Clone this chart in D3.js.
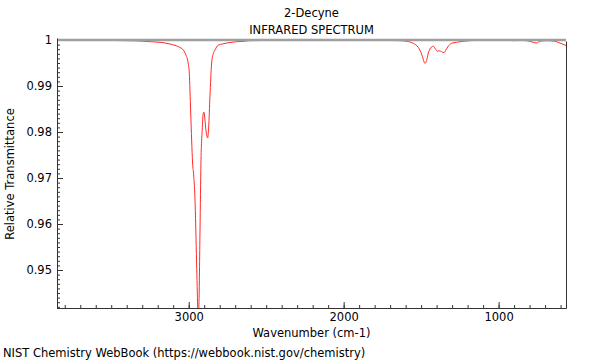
<!DOCTYPE html>
<html>
<head>
<meta charset="utf-8">
<script src="https://cdn.jsdelivr.net/npm/d3@7"></script>
<style>
  body { margin: 0; background: #fff; }
  text { font-family: "DejaVu Sans", sans-serif; fill: #000; }
</style>
</head>
<body>
<svg id="chart" width="600" height="360"></svg>
<script>
const chartTitle = "2-Decyne";
const chartSubtitle = "INFRARED SPECTRUM";
const xLabel = "Wavenumber (cm-1)";
const yLabel = "Relative Transmittance";
const footer = "NIST Chemistry WebBook (https://webbook.nist.gov/chemistry)";

const wavenumbers = [3850, 3800, 3700, 3600, 3500, 3400, 3300, 3250, 3185, 3121, 3067, 3035, 3018, 3003, 2996, 2992, 2987, 2981, 2975, 2968, 2960, 2949, 2942, 2939, 2934, 2927, 2921, 2913, 2906, 2902, 2896, 2891, 2884, 2878, 2871, 2863, 2852, 2842, 2831, 2809, 2780, 2755, 2720, 2691, 2650, 2605, 2500, 2400, 2300, 2200, 2100, 2000, 1900, 1800, 1700, 1637, 1594, 1551, 1519, 1497, 1487, 1476, 1465, 1455, 1439, 1422, 1407, 1394, 1384, 1368, 1353, 1340, 1325, 1304, 1271, 1229, 1185, 1121, 1050, 1000, 950, 900, 860, 820, 777, 755, 734, 691, 637, 605, 572, 565];
const transmittance = [0.99993, 0.99995, 0.9999, 0.99993, 0.9999, 0.99985, 0.99975, 0.99963, 0.9995, 0.99913, 0.99854, 0.99783, 0.99674, 0.99493, 0.99276, 0.98913, 0.98413, 0.97826, 0.97326, 0.97065, 0.96587, 0.95152, 0.94196, 0.9395, 0.9425, 0.9587, 0.9733, 0.9804, 0.9841, 0.98435, 0.983, 0.9811, 0.9793, 0.9787, 0.9811, 0.9876, 0.995, 0.997, 0.9978, 0.9989, 0.99915, 0.99935, 0.9995, 0.99963, 0.9997, 0.99985, 0.9999, 0.99993, 0.9999, 1.0, 0.9999, 0.99993, 0.9999, 0.99993, 0.9999, 0.99985, 0.99972, 0.99928, 0.99841, 0.99696, 0.99587, 0.99493, 0.9955, 0.99696, 0.99826, 0.99863, 0.99804, 0.99754, 0.99767, 0.99746, 0.99724, 0.99783, 0.99863, 0.99928, 0.9995, 0.99972, 0.99985, 0.99993, 0.9999, 1.0, 0.99993, 0.99985, 0.9999, 0.99985, 0.9995, 0.99935, 0.99972, 0.99985, 0.99972, 0.99935, 0.99891, 0.9988];

const xMajorTicks = [3000, 2000, 1000];
const xMinorTicks = d3.range(3800, 550, -100);
const yMajorTicks = [1, 0.99, 0.98, 0.97, 0.96, 0.95];
const yMinorTicks = d3.range(942, 1001, 1).map(d => d / 1000);
const xDomain = [3850, 565];
const yDomain = [0.94174, 1.0];

const FS = "11.5px";
const svg = d3.select("#chart");
const m = { left: 57, right: 566, top: 40, bottom: 308 };

const x = d3.scaleLinear().domain(xDomain).range([m.left, m.right]);
const y = d3.scaleLinear().domain(yDomain).range([m.bottom, m.top]);

svg.append("defs").append("clipPath").attr("id", "clip")
  .append("rect").attr("x", m.left).attr("y", m.top - 2)
  .attr("width", m.right - m.left).attr("height", m.bottom - m.top + 2);

// Titles
svg.append("text").attr("x", (m.left + m.right) / 2).attr("y", 17)
  .attr("text-anchor", "middle").style("font-size", FS).text(chartTitle);
svg.append("text").attr("x", (m.left + m.right) / 2).attr("y", 34)
  .attr("text-anchor", "middle").style("font-size", FS).text(chartSubtitle);

// Axes (ticks inward)
const gx = svg.append("g").attr("transform", `translate(0,${m.bottom})`);
gx.call(d3.axisBottom(x).tickValues(xMinorTicks).tickSize(-3).tickFormat(""));
const gx2 = svg.append("g").attr("transform", `translate(0,${m.bottom})`);
gx2.call(d3.axisBottom(x).tickValues(xMajorTicks).tickSize(-6).tickPadding(5).tickFormat(d3.format("d")));

const gy = svg.append("g").attr("transform", `translate(${m.left},0)`);
gy.call(d3.axisLeft(y).tickValues(yMinorTicks).tickSize(-3).tickFormat(""));
const gy2 = svg.append("g").attr("transform", `translate(${m.left},0)`);
gy2.call(d3.axisLeft(y).tickValues(yMajorTicks).tickSize(-6).tickPadding(4)
  .tickFormat(d => d === 1 ? "1" : d3.format(".2f")(d)));

svg.selectAll(".domain").remove();
svg.selectAll(".tick line").attr("stroke", "#333");
svg.selectAll(".tick text").style("font-size", FS).attr("fill", "#000")
  .style("font-family", "DejaVu Sans, sans-serif");
gy2.selectAll(".tick text").attr("dx", "-1");

// Spectrum
const pts = wavenumbers.map((w, i) => [w, transmittance[i]]);
svg.append("path").datum(pts)
  .attr("clip-path", "url(#clip)")
  .attr("fill", "none").attr("stroke", "#ff2a2a").attr("stroke-width", 1)
  .attr("d", d3.line().x(d => x(d[0])).y(d => y(d[1])).curve(d3.curveMonotoneX));

// Frame
svg.append("line").attr("x1", m.left).attr("x2", m.right).attr("y1", m.top).attr("y2", m.top)
  .attr("stroke", "#a0a0a0").attr("stroke-width", 2.5);
svg.append("line").attr("x1", m.left + 0.5).attr("x2", m.left + 0.5).attr("y1", m.top - 1.5).attr("y2", m.bottom + 0.5)
  .attr("stroke", "#333").attr("stroke-width", 1);
svg.append("line").attr("x1", m.left).attr("x2", m.right + 0.5).attr("y1", m.bottom + 0.5).attr("y2", m.bottom + 0.5)
  .attr("stroke", "#333").attr("stroke-width", 1);
svg.append("line").attr("x1", m.right + 0.5).attr("x2", m.right + 0.5).attr("y1", m.top + 1.5).attr("y2", m.bottom + 0.5)
  .attr("stroke", "#333").attr("stroke-width", 1);

// Axis labels
svg.append("text").attr("x", (m.left + m.right) / 2).attr("y", 337)
  .attr("text-anchor", "middle").style("font-size", FS).text(xLabel);
svg.append("text").attr("transform", `translate(14,${(m.top + m.bottom) / 2}) rotate(-90)`)
  .attr("text-anchor", "middle").style("font-size", FS).text(yLabel);

svg.append("text").attr("x", 3).attr("y", 357).style("font-size", FS).text(footer);
</script>
</body>
</html>
